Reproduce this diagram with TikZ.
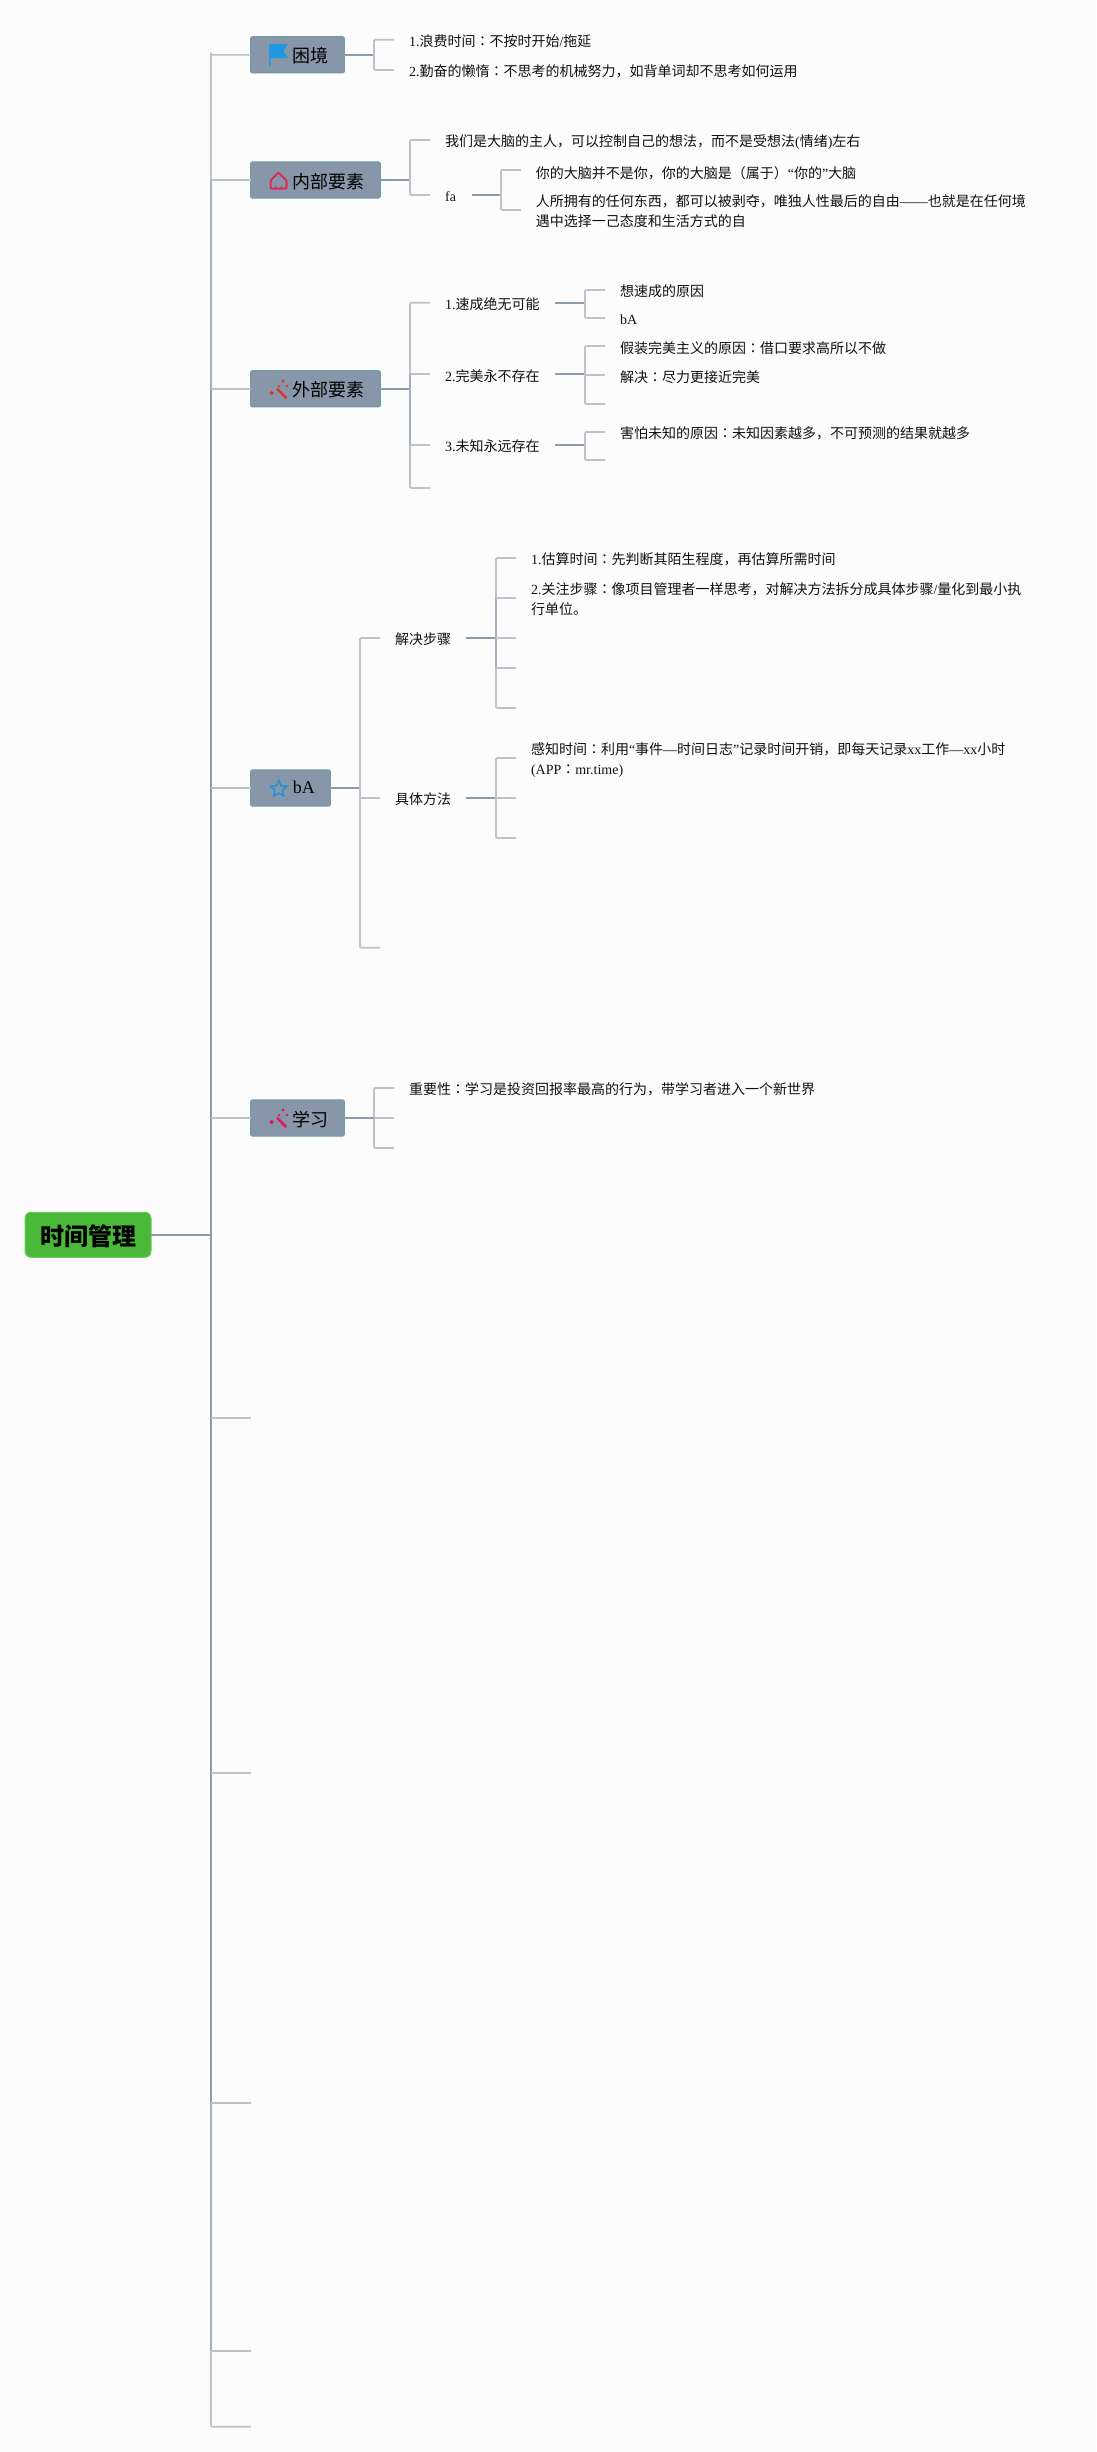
\documentclass[tikz,border=0pt]{standalone}
\usepackage{fontspec}
\usetikzlibrary{shapes.geometric}
\setmainfont{Liberation Serif}
\newfontfamily\cjk{Noto Sans CJK SC}
\newfontfamily\cjkt{Noto Sans CJK TC}
\newcommand{\C}[1]{{\cjk #1}}
\newcommand{\kc}{{\cjkt ：}}
\definecolor{bgc}{HTML}{FCFCFC}
\definecolor{boxfill}{HTML}{8796A8}
\definecolor{boxline}{HTML}{6F9CA2}
\definecolor{lightln}{HTML}{BFC2C8}
\definecolor{midln}{HTML}{A3B0C1}
\definecolor{darkln}{HTML}{8E9BAC}
\definecolor{rootfill}{HTML}{4AB93A}
\definecolor{rootline}{HTML}{6CCB5F}
\definecolor{flagblue}{HTML}{1E9BE0}
\definecolor{housered}{HTML}{DB2B55}
\definecolor{wandred}{HTML}{D93A28}
\definecolor{wandpink}{HTML}{E01A5A}
\definecolor{starblue}{HTML}{2A8FD8}
\definecolor{inkc}{HTML}{111111}
\tikzset{
  topicbox/.style={draw=boxline,fill=boxfill,line width=1pt,rounded corners=2pt,anchor=west,inner xsep=15.6pt,inner ysep=0pt,minimum height=36.3pt,outer sep=0pt,text=black,text height=16pt,text depth=0pt,font=\fontsize{18}{20}\selectfont},
  rootbox/.style={draw=rootline,fill=rootfill,line width=1pt,rounded corners=6pt,inner xsep=15pt,inner ysep=0pt,minimum height=45pt,outer sep=0pt,text=black,text height=22pt,text depth=0pt,font=\fontsize{24}{26}\selectfont\bfseries},
  leaf/.style={anchor=base west,inner sep=0pt,outer sep=0pt,text=inkc,font=\fontsize{14}{20}\selectfont},
  multileaf/.style={anchor=north west,align=left,inner sep=0pt,outer sep=0pt,text=inkc,font=\fontsize{14}{20}\selectfont},
  stem/.style={line width=1.7pt,color=darkln},
  twig/.style={line width=1.6pt,color=lightln,rounded corners=1pt},
  midtwig/.style={line width=1.6pt,color=midln},
}
\newcommand{\wand}[3]{%
  \begin{scope}[shift={(#1,#2)}]
    \fill[#3] (6.2,8.6) -- (8,6.8) -- (17.2,16.2) -- (15.4,18) -- cycle;
    \fill[#3] (1.6,9.8) -- (3.8,12) -- (1.6,14.2) -- (-0.6,12) -- cycle;
    \fill[#3] (13,-1.6) -- (14.6,0.1) -- (13,1.8) -- (11.4,0.1) -- cycle;
    \fill[#3] (17,3.7) -- (18.3,5) -- (17,6.3) -- (15.7,5) -- cycle;
    \fill[#3] (9,3.9) -- (10.3,5.2) -- (9,6.5) -- (7.7,5.2) -- cycle;
  \end{scope}}
\begin{document}
\begin{tikzpicture}[x=1pt,y=-1pt]
\useasboundingbox (0,0) rectangle (1096,2452);
\fill[bgc] (0,0) rectangle (1096,2452);

% root and topics
\node[rootbox] (root) at (88,1234.8) {\C{时间管理}};
\node[topicbox] (t1) at (250.6,54.8) {\hspace{26.6pt}\C{困境}};
\node[topicbox] (t2) at (250.6,180) {\hspace{26.6pt}\C{内部要素}};
\node[topicbox] (t3) at (250.6,388.8) {\hspace{26.6pt}\C{外部要素}};
\node[topicbox,text height=10pt] (t4) at (250.6,788) {\hspace{26.6pt}bA};
\node[topicbox] (t5) at (250.6,1118) {\hspace{26.6pt}\C{学习}};

% topic icons
\fill[flagblue] (269,44) -- (288,44) -- (283.5,51) -- (288,58) -- (270.5,58) -- (270.5,66) -- (269,66) -- cycle;
\draw[housered,line width=2pt,line join=round,rounded corners=1pt] (278.5,172.5) -- (286.5,180.5) -- (286.5,188.5) -- (270.5,188.5) -- (270.5,180.5) -- cycle;
\fill[housered] (275,188.5) -- (275,185) arc (180:0:3.5) -- (282,188.5) -- cycle;
\wand{270}{381}{wandred}
\node[star,star points=5,star point ratio=2.1,draw=starblue,line width=1.6pt,minimum size=17pt,inner sep=0pt] (staricon) at (278.7,789) {};
\wand{270}{1110}{wandpink}

% leaves of topic 1
\node[leaf] (a1) at (409,46.3) {1.\C{浪费时间\kc 不按时开始}/\C{拖延}};
\node[leaf] (a2) at (409,76.3) {2.\C{勤奋的懒惰\kc 不思考的机械努力，如背单词却不思考如何运用}};

% topic 2
\node[leaf] (b1) at (445.1,146.7) {\C{我们是大脑的主人，可以控制自己的想法，而不是受想法}(\C{情绪})\C{左右}};
\node[leaf] (b2) at (445.1,201.7) {fa};
\node[leaf] (b3) at (535.8,178) {\C{你的大脑并不是你，你的大脑是（属于）}“\C{你的}”\C{大脑}};
\node[multileaf] (b4) at (535.8,194.5) {\C{人所拥有的任何东西，都可以被剥夺，唯独人性最后的自由}——\C{也就是在任何境}\\\C{遇中选择一己态度和生活方式的自}};

% topic 3
\node[leaf] (c1) at (445,309.7) {1.\C{速成绝无可能}};
\node[leaf] (c2) at (445,381) {2.\C{完美永不存在}};
\node[leaf] (c3) at (445,451) {3.\C{未知永远存在}};
\node[leaf] (c11) at (620,296.3) {\C{想速成的原因}};
\node[leaf] (c12) at (620,324) {bA};
\node[leaf] (c21) at (620,353) {\C{假装完美主义的原因\kc 借口要求高所以不做}};
\node[leaf] (c22) at (620,382.3) {\C{解决\kc 尽力更接近完美}};
\node[leaf] (c31) at (620,438.3) {\C{害怕未知的原因\kc 未知因素越多，不可预测的结果就越多}};

% topic 4
\node[leaf] (d1) at (395.2,644.3) {\C{解决步骤}};
\node[leaf] (d2) at (395.2,804) {\C{具体方法}};
\node[leaf] (d11) at (531,564.3) {1.\C{估算时间\kc 先判断其陌生程度，再估算所需时间}};
\node[multileaf] (d12) at (531,583) {2.\C{关注步骤\kc 像项目管理者一样思考，对解决方法拆分成具体步骤}/\C{量化到最小执}\\\C{行单位。}};
\node[multileaf] (d21) at (531,742.5) {\C{感知时间\kc 利用}“\C{事件}—\C{时间日志}”\C{记录时间开销，即每天记录}xx\C{工作}—xx\C{小时}\\(APP\kc mr.time)};

% topic 5
\node[leaf] (e1) at (409,1094.3) {\C{重要性\kc 学习是投资回报率最高的行为，带学习者进入一个新世界}};

% junctions and free stub ends
\coordinate (tj0) at (211,1234.8);
\coordinate (ttop) at (211,54.8);
\coordinate (tj2) at (211,180);
\coordinate (tj3) at (211,388.8);
\coordinate (tj4) at (211,788);
\coordinate (tj5) at (211,1118);
\coordinate (tj6) at (211,2102.7);
\coordinate (tj7) at (211,2350.7);
\coordinate (s6) at (251,1417.7);
\coordinate (s7) at (251,1772.7);
\coordinate (s8) at (251,2102.7);
\coordinate (s9) at (251,2350.7);
\coordinate (s10) at (251,2426.7);

% trunk
\draw[twig] (tj2) |- (ttop) -- (t1.west);
\draw[midtwig,line width=2pt] (tj2) -- (tj3);
\draw[stem,line width=2pt] (tj3) -- (tj6);
\draw[midtwig,line width=2pt] (tj6) -- (tj7);
\draw[twig] (tj7) |- (s10);
\draw[stem] (root.east) -- (tj0);
\draw[twig] (tj2) -- (t2.west);
\draw[twig] (tj3) -- (t3.west);
\draw[twig] (tj4) -- (t4.west);
\draw[twig] (tj5) -- (t5.west);
\draw[twig] (211,1417.7) -- (s6);
\draw[twig] (211,1772.7) -- (s7);
\draw[twig] (tj6) -- (s8);
\draw[twig] (tj7) -- (s9);

% topic 1 bracket
\coordinate (j1) at (374,54.8);
\draw[stem] (t1.east) -- (j1);
\draw[twig] (394,39.7) -| (j1) |- (394,70);

% topic 2 brackets
\coordinate (j2) at (410,180);
\coordinate (j2b) at (410,195);
\coordinate (j2c) at (501,195);
\draw[stem] (t2.east) -- (j2);
\draw[twig] (430,140) -| (j2) -- (j2b) -- (430,195);
\draw[stem] (471.5,195) -- (j2c);
\draw[twig] (521,170) -| (j2c) |- (521,210);

% topic 3 brackets
\coordinate (j3) at (410,388.8);
\draw[stem] (t3.east) -- (j3);
\draw[twig] (430,302.7) -| (410,374) (410,445) |- (430,488);
\draw[midtwig] (410,374) -- (410,445);
\draw[twig] (410,374) -- (430,374);
\draw[twig] (410,445) -- (430,445);
\draw[stem] (555,302.7) -- (585,302.7);
\draw[twig] (605,290) -| (585,302.7) |- (605,318);
\draw[stem] (555,374) -- (585,374);
\draw[twig] (605,346) -| (585,374) |- (605,404);
\draw[twig] (585,375) -- (605,375);
\draw[stem] (555,445) -- (585,445);
\draw[twig] (605,432) -| (585,445) |- (605,460);

% topic 4 brackets
\coordinate (j4) at (360,788);
\draw[stem] (t4.east) -- (j4);
\draw[twig] (380,638) -| (j4) |- (380,947.7);
\draw[twig] (360,797.7) -- (380,797.7);
\draw[stem] (466,638) -- (496,638);
\draw[twig] (516,558) -| (496,598) (496,667.7) |- (516,708);
\draw[midtwig] (496,598) -- (496,667.7);
\draw[twig] (496,598) -- (516,598);
\draw[twig] (496,638) -- (516,638);
\draw[twig] (496,667.7) -- (516,667.7);
\draw[stem] (466,797.7) -- (496,797.7);
\draw[twig] (516,758) -| (496,797.7) |- (516,838);
\draw[twig] (496,797.7) -- (516,797.7);

% topic 5 bracket
\coordinate (j5) at (374,1118);
\draw[twig] (394,1088) -| (j5) |- (394,1148);
\draw[twig] (j5) -- (394,1118);
\draw[stem] (t5.east) -- (j5);
\end{tikzpicture}
\end{document}
